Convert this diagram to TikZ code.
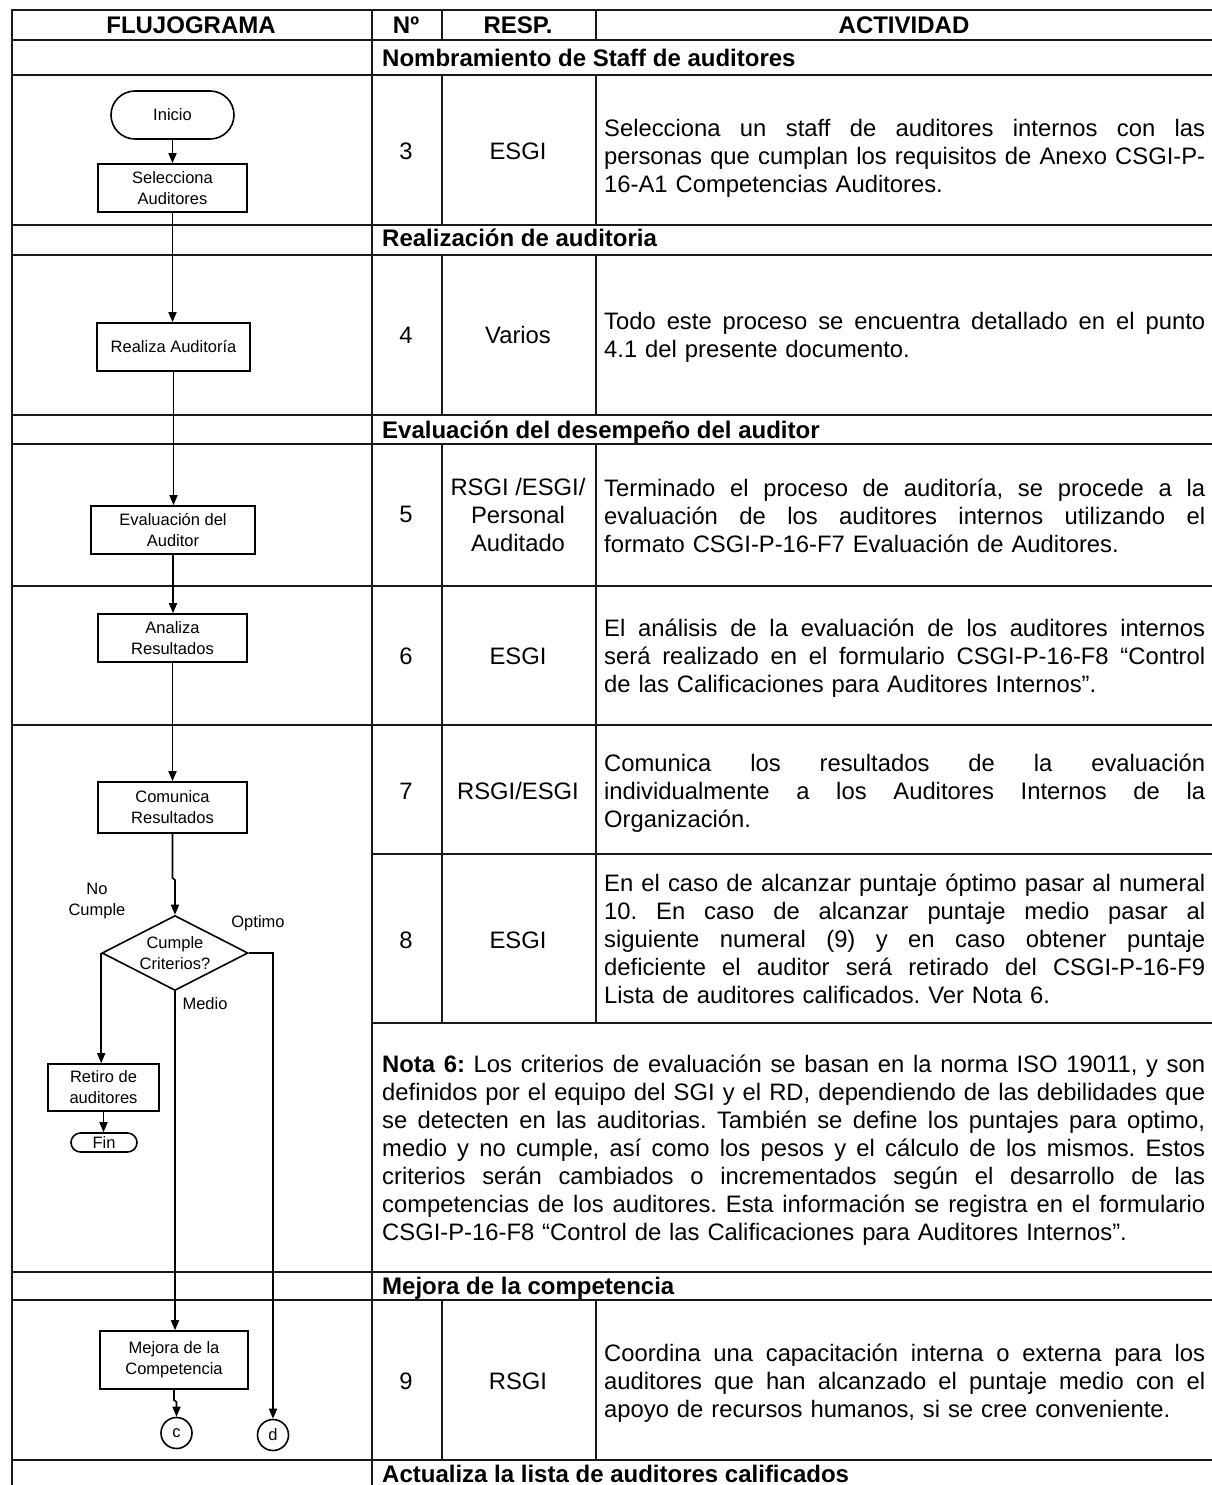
\documentclass[tikz,border=0pt]{standalone}
\usepackage{fontspec}
\setmainfont{Liberation Sans}
\usetikzlibrary{arrows.meta,shapes.geometric}
\newcommand{\jl}[1]{\leavevmode\hbox to 601pt{\spaceskip=0.278em plus 1fil\relax #1}}
\newcommand{\jn}[1]{\leavevmode\hbox to 823pt{\spaceskip=0.278em plus 1fil\relax #1}}
\newcommand{\bodyfont}{\fontsize{23.8}{28}\selectfont\frenchspacing}
\newcommand{\headfont}{\fontsize{24}{28}\selectfont\bfseries}
\newcommand{\flowfont}{\fontsize{16.5}{21}\selectfont}
\begin{document}
\begin{tikzpicture}[x=1pt,y=-1pt,
  gridline/.style={line width=1.9pt,draw=black!90},
  flowarrow/.style={line width=1.6pt,-{Triangle[length=10pt,width=8pt]}},
  procbox/.style={draw,line width=1.6pt,inner sep=0pt,align=center,font=\flowfont},
  flowlabel/.style={inner sep=0pt,align=center,font=\flowfont},
  acttext/.style={anchor=base west,inner sep=0pt,text width=601pt,align=left,font=\bodyfont},
  notetext/.style={anchor=base west,inner sep=0pt,text width=823pt,align=left,font=\bodyfont},
  celltext/.style={inner sep=0pt,align=center,font=\bodyfont},
  colhead/.style={anchor=base,inner sep=0pt,font=\headfont},
  sechead/.style={anchor=base west,inner sep=0pt,font=\headfont}]
\useasboundingbox (0,0) rectangle (1211,1485);
\fill[white] (0,0) rectangle (1211,1485);

% ---------------- table grid ----------------
\foreach \yy in {10,40,75,225,255,415,444,586,725,1272,1300,1460}
  \draw[gridline] (12,\yy) -- (1212,\yy);
\foreach \yy in {854,1023}
  \draw[gridline] (372,\yy) -- (1212,\yy);
\draw[gridline] (12,9.1) -- (12,1486);
\draw[gridline] (372,9.1) -- (372,1486);
\foreach \xx in {442,596}{
  \draw[gridline] (\xx,10) -- (\xx,40);
  \draw[gridline] (\xx,75) -- (\xx,225);
  \draw[gridline] (\xx,255) -- (\xx,415);
  \draw[gridline] (\xx,444) -- (\xx,1023);
  \draw[gridline] (\xx,1300) -- (\xx,1460);
}

% ---------------- column headers ----------------
\node[colhead] (hflu) at (191,33.3) {FLUJOGRAMA};
\node[colhead] (hno) at (406,33.3) {Nº};
\node[colhead] (hres) at (518,33.3) {RESP.};
\node[colhead] (hact) at (904,33.3) {ACTIVIDAD};

% ---------------- section headers ----------------
\node[sechead] (s1) at (382,66.7) {Nombramiento de Staff de auditores};
\node[sechead] (s2) at (382,246.7) {Realización de auditoria};
\node[sechead] (s3) at (382,438.3) {Evaluación del desempeño del auditor};
\node[sechead] (s4) at (382,1294.5) {Mejora de la competencia};
\node[sechead] (s5) at (382,1482) {Actualiza la lista de auditores calificados};

% ---------------- Nº and RESP. ----------------
\node[celltext,anchor=base] (n3) at (406,159.3) {3};
\node[celltext,anchor=base] (r3) at (518,159.3) {ESGI};
\node[celltext,anchor=base] (n4) at (406,343.7) {4};
\node[celltext,anchor=base] (r4) at (518,343.7) {Varios};
\node[celltext,anchor=base] (n5) at (406,522.7) {5};
\node[celltext,anchor=base] (r5) at (518,551) {RSGI /ESGI/\\Personal\\Auditado};
\node[celltext,anchor=base] (n6) at (406,664.7) {6};
\node[celltext,anchor=base] (r6) at (518,664.7) {ESGI};
\node[celltext,anchor=base] (n7) at (406,799.3) {7};
\node[celltext,anchor=base] (r7) at (518,799.3) {RSGI/ESGI};
\node[celltext,anchor=base] (n8) at (406,948.3) {8};
\node[celltext,anchor=base] (r8) at (518,948.3) {ESGI};
\node[celltext,anchor=base] (n9) at (406,1389.7) {9};
\node[celltext,anchor=base] (r9) at (518,1389.7) {RSGI};

% ---------------- activities ----------------
\node[acttext] (a3) at (604,136.7) {\jl{Selecciona un staff de auditores internos con las}\\\jl{personas que cumplan los requisitos de Anexo CSGI-P-}\\16-A1 Competencias Auditores.};
\node[acttext] (a4) at (604,329.7) {\jl{Todo este proceso se encuentra detallado en el punto}\\4.1 del presente documento.};
\node[acttext] (a5) at (604,496.7) {\jl{Terminado el proceso de auditoría, se procede a la}\\\jl{evaluación de los auditores internos utilizando el}\\formato CSGI-P-16-F7 Evaluación de Auditores.};
\node[acttext] (a6) at (604,636.7) {\jl{El análisis de la evaluación de los auditores internos}\\\jl{será realizado en el formulario CSGI-P-16-F8 “Control}\\de las Calificaciones para Auditores Internos”.};
\node[acttext] (a7) at (604,771) {\jl{Comunica los resultados de la evaluación}\\\jl{individualmente a los Auditores Internos de la}\\Organización.};
\node[acttext] (a8) at (604,891.7) {\jl{En el caso de alcanzar puntaje óptimo pasar al numeral}\\\jl{10. En caso de alcanzar puntaje medio pasar al}\\\jl{siguiente numeral (9) y en caso obtener puntaje}\\\jl{deficiente el auditor será retirado del CSGI-P-16-F9}\\Lista de auditores calificados. Ver Nota 6.};
\node[notetext] (nota) at (382,1072.7) {\jn{\textbf{Nota 6:} Los criterios de evaluación se basan en la norma ISO 19011, y son}\\\jn{definidos por el equipo del SGI y el RD, dependiendo de las debilidades que}\\\jn{se detecten en las auditorias. También se define los puntajes para optimo,}\\\jn{medio y no cumple, así como los pesos y el cálculo de los mismos. Estos}\\\jn{criterios serán cambiados o incrementados según el desarrollo de las}\\\jn{competencias de los auditores. Esta información se registra en el formulario}\\CSGI-P-16-F8 “Control de las Calificaciones para Auditores Internos”.};
\node[acttext] (a9) at (604,1361.7) {\jl{Coordina una capacitación interna o externa para los}\\\jl{auditores que han alcanzado el puntaje medio con el}\\apoyo de recursos humanos, si se cree conveniente.};

% ---------------- flowchart ----------------
\node[procbox,rounded corners=24pt,minimum width=123pt,minimum height=48pt] (ini) at (172.5,115) {Inicio};
\node[procbox,minimum width=149pt,minimum height=48pt] (sel) at (172.5,188) {Selecciona\\Auditores};
\node[procbox,minimum width=153pt,minimum height=48pt] (rea) at (173.5,347) {Realiza Auditoría};
\node[procbox,minimum width=164pt,minimum height=48pt] (eva) at (173,530) {Evaluación del\\Auditor};
\node[procbox,minimum width=149pt,minimum height=48pt] (ana) at (172.5,638) {Analiza\\Resultados};
\node[procbox,minimum width=149pt,minimum height=51pt] (com) at (172.5,807.5) {Comunica\\Resultados};
\node[draw,diamond,line width=1.6pt,inner sep=0pt,minimum width=146pt,minimum height=75pt] (dia) at (175,953) {};
\node[flowlabel] (diat) at (dia.center) {Cumple\\Criterios?};
\node[procbox,minimum width=111pt,minimum height=47pt] (ret) at (103.5,1087.5) {Retiro de\\auditores};
\node[procbox,rounded corners=9.5pt,minimum width=66pt,minimum height=19pt] (fin) at (104,1142.5) {Fin};
\node[procbox,minimum width=148pt,minimum height=58pt] (mej) at (174,1360) {Mejora de la\\Competencia};
\node[procbox,circle,minimum size=31pt] (cc) at (176.5,1433) {c};
\node[procbox,circle,minimum size=31pt] (dd) at (273,1435) {d};

\node[flowlabel] (lno) at (97,901) {No\\Cumple};
\node[flowlabel] (lopt) at (258,923) {Optimo};
\node[flowlabel] (lmed) at (205,1004) {Medio};

\coordinate (j1) at (172.5,878);
\coordinate (j2) at (175,880);
\coordinate (j3) at (174,1400);
\coordinate (j4) at (176.5,1402);

\draw[flowarrow] (ini.south) -- (sel.north);
\draw[flowarrow] (sel.south) -- (sel.south |- rea.north);
\draw[flowarrow] (rea.south) -- (rea.south |- eva.north);
\draw[flowarrow] (eva.south) -- (eva.south |- ana.north);
\draw[flowarrow] (ana.south) -- (com.north);
\draw[flowarrow] (com.south) -- (j1) -- (j2) -- (dia.north);
\draw[flowarrow] (dia.west) -- (dia.west |- ret.north);
\draw[flowarrow] (ret.south) -- (ret.south |- fin.north);
\draw[flowarrow] (dia.east) -| (dd.north);
\draw[flowarrow] (dia.south) -- (dia.south |- mej.north);
\draw[flowarrow] (mej.south) -- (j3) -- (j4) -- (cc.north);
\end{tikzpicture}
\end{document}
